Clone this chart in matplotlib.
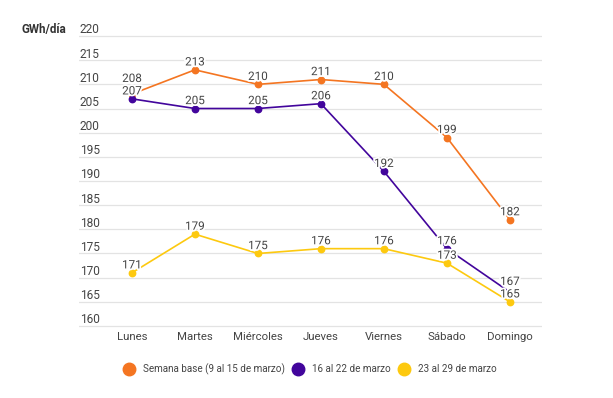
import matplotlib
matplotlib.use("Agg")
import matplotlib.pyplot as plt
from matplotlib.lines import Line2D
import matplotlib.transforms as mtrans
import matplotlib.patheffects as pe

plt.rcParams['font.family'] = ['Roboto', 'DejaVu Sans']

days = ["Lunes", "Martes", "Miércoles", "Jueves", "Viernes", "Sábado", "Domingo"]
base = [208, 213, 210, 211, 210, 199, 182]
week16 = [207, 205, 205, 206, 192, 176, 167]
week23 = [171, 179, 175, 176, 176, 173, 165]
series_names = ["Semana base (9 al 15 de marzo)", "16 al 22 de marzo", "23 al 29 de marzo"]
yticks = [160, 165, 170, 175, 180, 185, 190, 195, 200, 205, 210, 215, 220]
unit = "GWh/día"

colors = ["#f47521", "#42059c", "#fdc90f"]
W, H = 613, 398
fig = plt.figure(figsize=(W / 100, H / 100), dpi=100)
top_px, bot_px = 33.6, 328.4
left_px, right_px = 79, 542
ax = fig.add_axes([left_px / W, 1 - bot_px / H, (right_px - left_px) / W, (bot_px - top_px) / H])
ax.set_xlim(-0.84, 6.51)
ax.set_ylim(159.5, 220.5)
for s in ax.spines.values():
    s.set_visible(False)
ax.set_xticks([])
ax.set_yticks([])
px_per_unit = (bot_px - top_px) / 61.0

trans = mtrans.blended_transform_factory(ax.transAxes, ax.transData)
for v in yticks:
    ax.axhline(v, color="#e3e3e3", lw=0.9, zorder=0)
    ax.annotate(str(v), (0.0, v), xycoords=trans, xytext=(0.5, -0.3),
                textcoords="offset points", ha="left", va="bottom", fontsize=8.6,
                color="#444444")

fig.text(22 / W, 1 - 30 / H, unit, ha="left", va="center", fontsize=8.4,
         fontweight="bold", color="#333333")

x = list(range(len(days)))
all_series = [base, week16, week23]
for vals, c in zip(all_series, colors):
    ax.plot(x, vals, color=c, lw=1.2, marker="o", markersize=4.6, zorder=3,
            clip_on=False)

# data labels with simple collision avoidance (in pixels), white halo
base_off = 1.0  # points above marker
min_gap = 12.5  # pixels between label baselines
halo = [pe.withStroke(linewidth=2.6, foreground="white")]
for xi in x:
    items = sorted([(vals[xi], si) for si, vals in enumerate(all_series)])
    last_pos = None
    for v, si in items:
        pos = v * px_per_unit + base_off / 0.72
        if last_pos is not None and pos - last_pos < min_gap:
            pos = last_pos + min_gap
        last_pos = pos
        off_pt = (pos - v * px_per_unit) * 0.72
        ax.annotate(str(v), (xi, v), xytext=(0, off_pt), textcoords="offset points",
                    ha="center", va="bottom", fontsize=8.4, color="#444444", zorder=4,
                    path_effects=halo)

for xi, d in zip(x, days):
    ax.annotate(d, (xi, 0), xycoords=("data", "axes fraction"), xytext=(0, -2.5),
                textcoords="offset points", ha="center", va="top", fontsize=8.2,
                color="#444444", annotation_clip=False)

handles = [Line2D([], [], marker="o", color=c, lw=0, markersize=9) for c in colors]
fig.legend(handles, series_names, loc="center", bbox_to_anchor=(310 / W, 1 - 369 / H),
           ncol=3, frameon=False, fontsize=7.1, handletextpad=0.85, columnspacing=0.7,
           handlelength=1.2, labelcolor="#444444")

fig.savefig("out.png", dpi=100)
